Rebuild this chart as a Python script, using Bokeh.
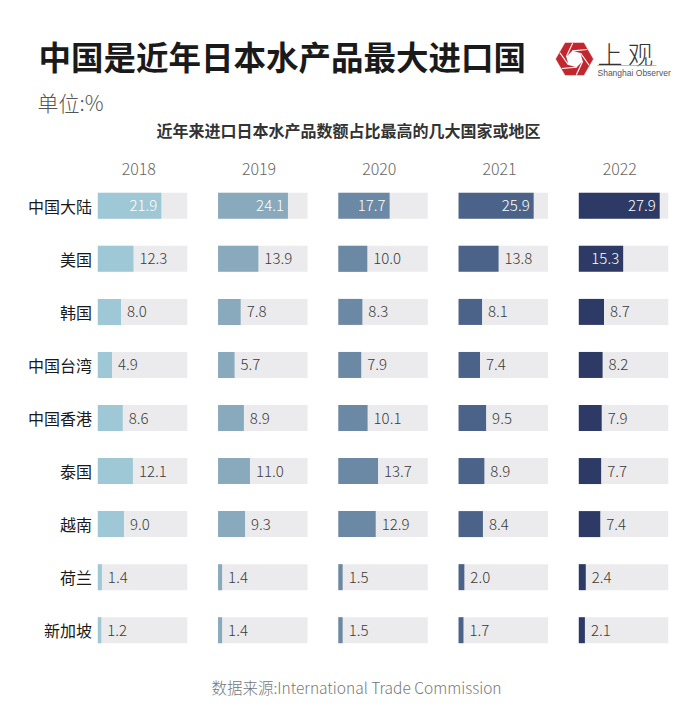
import numpy as np
from bokeh.plotting import figure
from bokeh.models import ColumnDataSource, Range1d
from bokeh.core.properties import value
from bokeh.embed import file_html
from bokeh.resources import INLINE

# ---------------- data ----------------
title = "中国是近年日本水产品最大进口国"
unit_label = "单位:%"
subtitle = "近年来进口日本水产品数额占比最高的几大国家或地区"
source_note = "数据来源:International Trade Commission"

regions = ["中国大陆", "美国", "韩国", "中国台湾", "中国香港", "泰国", "越南", "荷兰", "新加坡"]
years = ["2018", "2019", "2020", "2021", "2022"]
v2018 = [21.9, 12.3, 8.0, 4.9, 8.6, 12.1, 9.0, 1.4, 1.2]
v2019 = [24.1, 13.9, 7.8, 5.7, 8.9, 11.0, 9.3, 1.4, 1.4]
v2020 = [17.7, 10.0, 8.3, 7.9, 10.1, 13.7, 12.9, 1.5, 1.5]
v2021 = [25.9, 13.8, 8.1, 7.4, 9.5, 8.9, 8.4, 2.0, 1.7]
v2022 = [27.9, 15.3, 8.7, 8.2, 7.9, 7.7, 7.4, 2.4, 2.1]
series = [v2018, v2019, v2020, v2021, v2022]
year_colors = ["#9fc8d6", "#89a9bd", "#6b88a5", "#4b6389", "#2c3a65"]

# ---------------- layout constants ----------------
W, H = 700, 705
COL0, COL_STEP = 97.3, 120.25      # left edge of each year panel
ROW0, ROW_STEP = 205.3, 53.05      # centre of each region row
K = 2.9                            # px per percentage point
BG_W = 89.5                        # width of grey track
BAR_H = 26
FONT = "Noto Sans CJK SC"
LIGHT = "'Noto Sans CJK SC Light', 'Noto Sans CJK SC'"

p = figure(width=W, height=H, x_range=Range1d(0, W), y_range=Range1d(H, 0),
           output_backend="svg", toolbar_location=None,
           x_axis_location=None, y_axis_location=None, min_border=0)
p.outline_line_color = None
p.grid.grid_line_color = None
p.background_fill_color = "white"
p.border_fill_color = "white"

# ---------------- bars ----------------
ys, lefts, rights, bgr, cols = [], [], [], [], []
in_x, in_y, in_t = [], [], []
out_x, out_y, out_t = [], [], []
for j, vals in enumerate(series):
    left = COL0 + j * COL_STEP
    for i, v in enumerate(vals):
        y = ROW0 + i * ROW_STEP
        r = left + v * K
        ys.append(y); lefts.append(left); rights.append(r)
        bgr.append(left + BG_W); cols.append(year_colors[j])
        if v >= 15:
            in_x.append(r - 4); in_y.append(y); in_t.append(f"{v:.1f}")
        else:
            out_x.append(r + 6); out_y.append(y); out_t.append(f"{v:.1f}")

bars = ColumnDataSource(dict(y=ys, left=lefts, right=rights, bgr=bgr, color=cols))
p.hbar(y="y", left="left", right="bgr", height=BAR_H, source=bars,
       fill_color="#ebebed", line_color=None)
p.hbar(y="y", left="left", right="right", height=BAR_H, source=bars,
       fill_color="color", line_color=None)

p.text(x=in_x, y=in_y, text=in_t, text_align="right", text_baseline="middle",
       text_font=value(LIGHT), text_font_size=value("15px"), text_color="white")
p.text(x=out_x, y=out_y, text=out_t, text_align="left", text_baseline="middle",
       text_font=value(LIGHT), text_font_size=value("15px"), text_color="#3a3a3a")

# region labels
p.text(x=[91.5] * len(regions), y=[ROW0 + i * ROW_STEP for i in range(len(regions))],
       text=regions, text_align="right", text_baseline="middle",
       text_font=value(FONT), text_font_size=value("16px"), text_color="#1a1a1a")

# year labels
p.text(x=[COL0 + j * COL_STEP + 41 for j in range(len(years))], y=[168] * len(years),
       text=years, text_align="center", text_baseline="middle",
       text_font=value(LIGHT), text_font_size=value("16px"), text_color="#666666")

# ---------------- titles ----------------
p.text(x=[38], y=[55], text=[title], text_align="left", text_baseline="middle",
       text_font=value(FONT), text_font_size=value("32.5px"), text_font_style="bold",
       text_color="#1a1a1a")
p.text(x=[37], y=[101], text=[unit_label], text_align="left", text_baseline="middle",
       text_font=value(LIGHT), text_font_size=value("21px"), text_color="#555555")
p.text(x=[348], y=[129], text=[subtitle], text_align="center", text_baseline="middle",
       text_font=value(FONT), text_font_size=value("16px"), text_font_style="bold",
       text_color="#333333")
p.text(x=[356], y=[686], text=[source_note], text_align="center", text_baseline="middle",
       text_font=value(LIGHT), text_font_size=value("15.5px"), text_color="#777777")

# ---------------- logo ----------------
cx, cy, R = 574, 58.5, 19
ang = np.deg2rad(np.arange(0, 360, 60))
p.patch(x=list(cx + R * np.cos(ang)), y=list(cy + R * np.sin(ang)),
        fill_color="#c1272d", line_color=None)
ri = 8.5
ang_i = ang + np.deg2rad(15)
ix = cx + ri * np.cos(ang_i)
iy = cy + ri * np.sin(ang_i)
p.patch(x=list(ix), y=list(iy), fill_color="white", line_color=None)
for k in range(6):
    a = ang_i[k] + np.deg2rad(100)
    p.line(x=[ix[k], ix[k] + 15 * np.cos(a)], y=[iy[k], iy[k] + 15 * np.sin(a)],
           line_color="white", line_width=1.2)
p.patch(x=list(cx + R * np.cos(ang)), y=list(cy + R * np.sin(ang)),
        fill_color=None, line_color="white", line_width=0.5)
p.text(x=[597], y=[52], text=["上 观"], text_align="left", text_baseline="middle",
       text_font=value(LIGHT), text_font_size=value("25px"), text_color="#333333")
p.line(x=[597, 656], y=[65, 65], line_color="#aaaaaa", line_width=0.8)
p.text(x=[597], y=[72.5], text=["Shanghai Observer"], text_align="left",
       text_baseline="middle", text_font=value("Liberation Sans"),
       text_font_size=value("8.5px"), text_color="#555555")

open("out.html", "w").write(file_html(p, INLINE))
